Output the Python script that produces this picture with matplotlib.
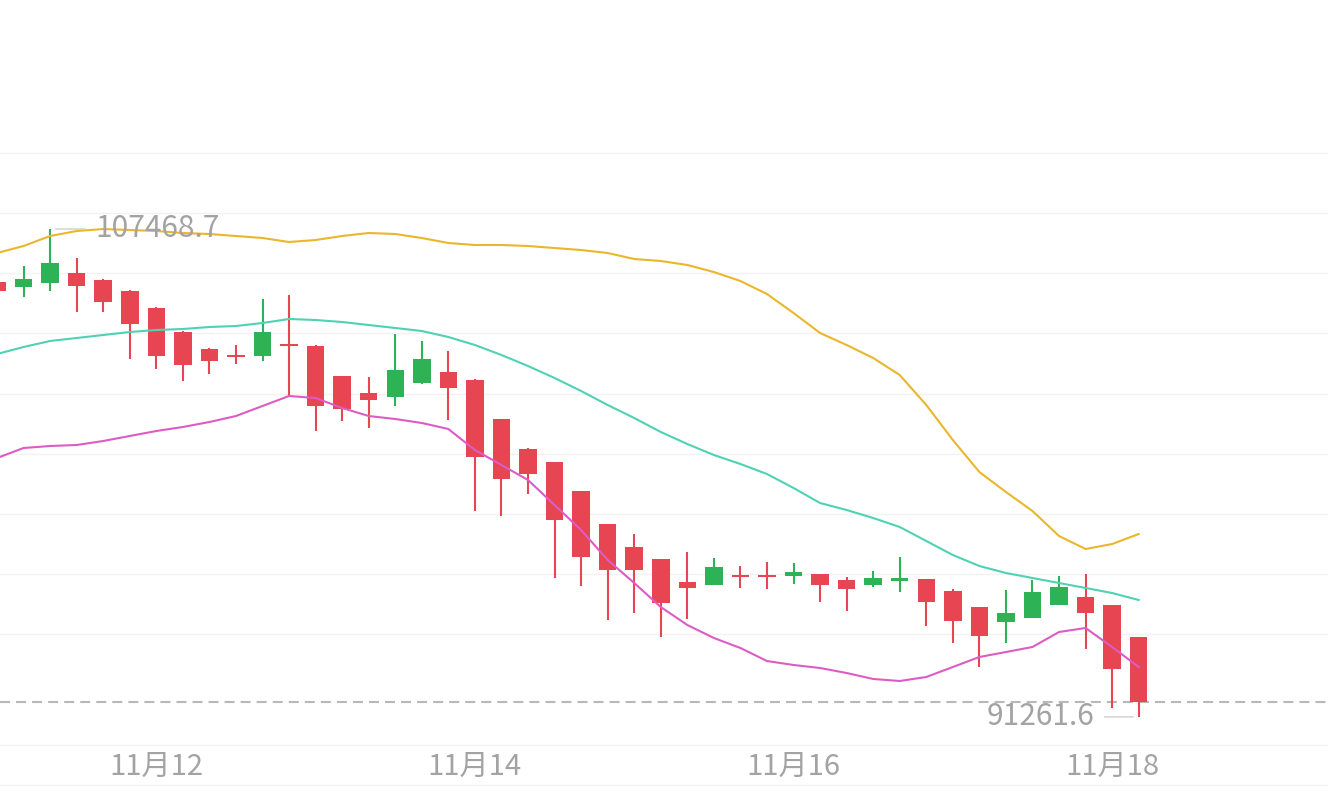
import numpy as np
import pandas as pd
import matplotlib
matplotlib.use("Agg")
import matplotlib.pyplot as plt

plt.rcParams['font.family'] = ['Noto Sans CJK SC', 'DejaVu Sans']

# 4h candles, 11-11 00:00 .. 11-18 04:00
times = pd.date_range("2025-11-11 00:00", periods=44, freq="4h")

opens = [105708, 105542, 105675, 106007, 105774, 105409, 104844, 104047, 103482, 103283,
         103250, 103648, 103582, 102585, 102020, 101888, 102353, 102718, 102452, 101157,
         100160, 99728, 98765, 97669, 96905, 96506, 95742, 95642, 95974, 95974,
         95941, 96008, 95808, 95642, 95775, 95842, 95443, 94911, 94413, 94546,
         94978, 95244, 94978, 93915]
highs = [105774, 106239, 107468.7, 106505, 105808, 105442, 104870, 104070, 103500, 103615,
         105143, 105276, 103600, 102600, 102552, 103980, 103748, 103416, 102470, 101170,
         100180, 99740, 98780, 97680, 97336, 96520, 96738, 96539, 96273, 96406,
         96373, 96020, 95908, 96107, 96572, 95850, 95509, 94920, 95476, 95808,
         95941, 96008, 94990, 93920]
lows = [105342, 105210, 105409, 104711, 104711, 103150, 102818, 102419, 102652, 102984,
        103083, 101921, 100758, 101090, 100858, 101589, 102319, 101123, 98100, 97934,
        98665, 95875, 95609, 94479, 94712, 93915, 94513, 95630, 95543, 95509,
        95675, 95078, 94779, 95576, 95410, 94280, 93715, 92918, 93715, 94540,
        94970, 93516, 91556, 91261.6]
closes = [105409, 105808, 106339, 105575, 105044, 104313, 103250, 102951, 103083, 103216,
          104047, 103582, 101589, 101489, 101788, 102785, 103150, 102187, 99894, 99164,
          99330, 97801, 96572, 96141, 96141, 95044, 95543, 96240, 95908, 95908,
          96074, 95642, 95509, 95875, 95875, 95078, 94446, 93948, 94712, 95410,
          95576, 94712, 92852, 91755]

# Bollinger bands
boll_up = [106671, 106904, 107236, 107402, 107468, 107435, 107402, 107336, 107302, 107236,
           107170, 107037, 107103, 107236, 107336, 107302, 107170, 107003, 106937, 106937,
           106904, 106837, 106771, 106671, 106472, 106406, 106273, 106040, 105741, 105309,
           104678, 104014, 103615, 103183, 102618, 101622, 100459, 99396, 98732, 98100,
           97270, 96838, 97004, 97336]
boll_mid = [103316, 103549, 103748, 103848, 103947, 104047, 104113, 104147, 104213, 104246,
            104346, 104479, 104446, 104379, 104279, 104180, 104080, 103881, 103615, 103283,
            102917, 102519, 102087, 101622, 101190, 100725, 100326, 99961, 99662, 99330,
            98865, 98366, 98134, 97868, 97569, 97104, 96639, 96273, 96041, 95875,
            95709, 95543, 95376, 95144]
boll_low = [99861, 100193, 100260, 100293, 100426, 100592, 100758, 100891, 101057, 101256,
            101589, 101921, 101854, 101522, 101256, 101157, 101024, 100825, 100127, 99629,
            99130, 98300, 97469, 96473, 95709, 94911, 94313, 93882, 93549, 93117,
            92985, 92885, 92719, 92520, 92453, 92586, 92918, 93250, 93416, 93583,
            94081, 94214, 93583, 92918]

UP = '#2db256'
DOWN = '#e84552'
GRID = '#f2f2f2'
LABEL = '#a3a3a3'

o = np.array(opens); h = np.array(highs); l = np.array(lows); c = np.array(closes)
x = np.arange(len(o))
colors = [UP if cc >= oo else DOWN for oo, cc in zip(o, c)]

fig = plt.figure(figsize=(13.28, 8.11), dpi=100)
ax = fig.add_axes([0, 66 / 811, 1, (745 - 123) / 811])

# candles
ax.vlines(x, l, h, colors=colors, lw=1.5, zorder=2)
body_lo = np.minimum(o, c)
body_h = np.maximum(np.abs(c - o), 60)
ax.bar(x, body_h, bottom=body_lo, width=0.66, color=colors, lw=0, zorder=3)

# bands on top
ax.plot(x, boll_up, color='#eab62c', lw=1.5, zorder=4)
ax.plot(x, boll_mid, color='#4fd2b3', lw=1.5, zorder=4)
ax.plot(x, boll_low, color='#dd5cc4', lw=1.5, zorder=4)

# last price
ax.axhline(closes[-1], color='#b8b8b8', lw=1.5, ls=(0, (4.8, 2.9)), zorder=1)

# max / min markers
imax = int(np.argmax(h)); imin = int(np.argmin(l))
ax.annotate(f'{h[imax]:.1f}', xy=(imax, h[imax]), xytext=(45, 0), textcoords='offset pixels',
            ha='left', va='center', fontsize=21.5, color=LABEL, zorder=5,
            arrowprops=dict(arrowstyle='-', color='#cfcfcf', lw=1, shrinkA=5, shrinkB=4))
ax.annotate(f'{l[imin]:.1f}', xy=(imin, l[imin]), xytext=(-44, 0), textcoords='offset pixels',
            ha='right', va='center', fontsize=21.5, color=LABEL, zorder=5,
            arrowprops=dict(arrowstyle='-', color='#cfcfcf', lw=1, shrinkA=5, shrinkB=4))

# axes range (px mapping: 2000 per ~60px)
ax.set_xlim(0.113, 50.13)
ax.set_ylim(90327, 110990)

ax.set_yticks(np.arange(94000, 111000, 2000))
ax.yaxis.grid(True, color=GRID, lw=1)
ax.tick_params(axis='y', left=False, labelleft=False)

tick_idx = [i for i, t in enumerate(times) if t.hour == 0 and t.day % 2 == 0]
ax.set_xticks(tick_idx)
ax.set_xticklabels([f'{t.month}月{t.day}' for t in times[tick_idx]], fontsize=21, color=LABEL)
ax.tick_params(axis='x', length=0, pad=5)

for s in ['top', 'left', 'right']:
    ax.spines[s].set_visible(False)
ax.spines['bottom'].set_color(GRID)
ax.spines['bottom'].set_linewidth(1)
ax.set_axisbelow(True)

# bottom line under the date labels
fig.add_artist(plt.Line2D([0, 1], [1 - 785 / 811] * 2, color=GRID, lw=1))

fig.savefig('out.png', dpi=100, facecolor='white')
